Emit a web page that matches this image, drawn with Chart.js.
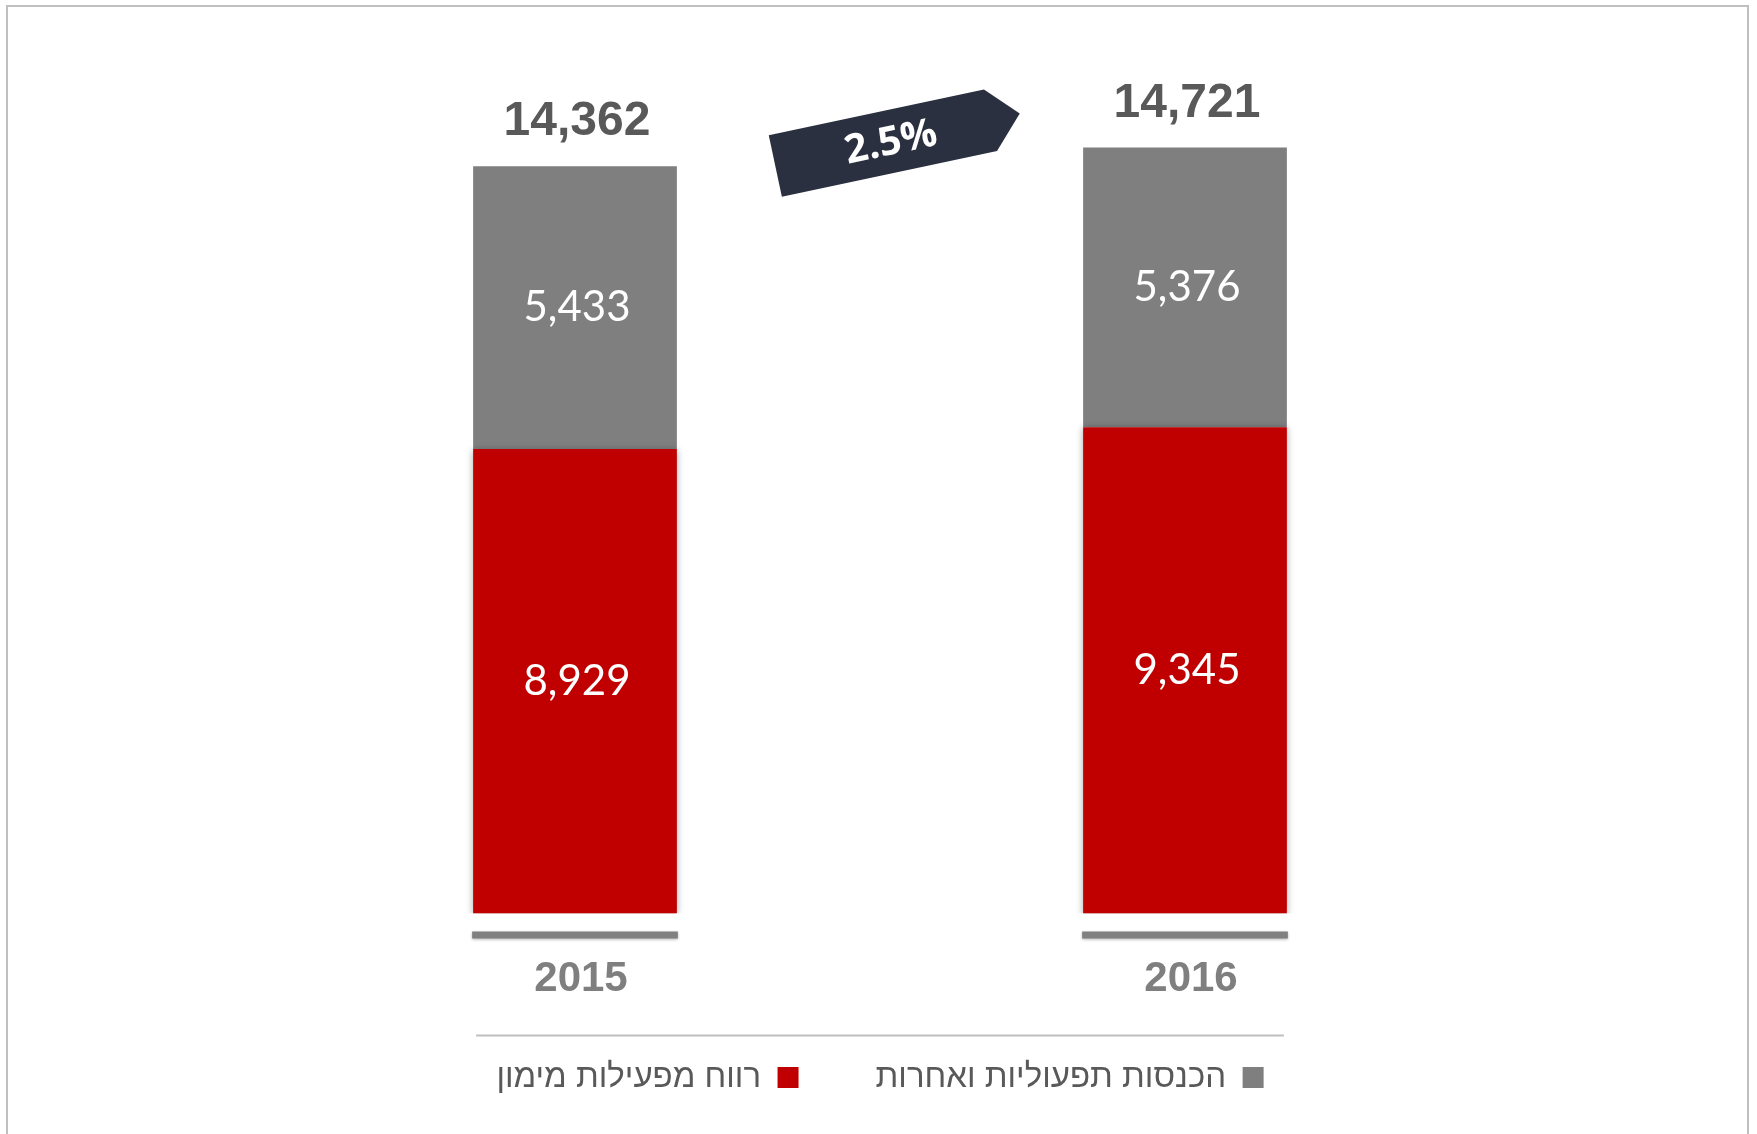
<!DOCTYPE html>
<html>
<head>
<meta charset="utf-8">
<script src="https://cdn.jsdelivr.net/npm/chart.js@4.4.1/dist/chart.umd.min.js"></script>
<style>
  html, body { margin: 0; padding: 0; background: #fff; }
  #frame { position: absolute; left: 6px; top: 5px; width: 1743px; height: 1140px; border: 2px solid #bfbfbf; box-sizing: border-box; }
  #wrap { position: absolute; left: 0; top: 0; width: 1757px; height: 1134px; }
</style>
</head>
<body>
<div id="frame"></div>
<div id="wrap"><canvas id="chart"></canvas></div>
<script>
var years = ['2015', '2016'];
var financeProfit = [8929, 9345];   // רווח מפעילות מימון
var otherIncome = [5433, 5376];     // הכנסות תפעוליות ואחרות
var seriesNames = ['רווח מפעילות מימון', 'הכנסות תפעוליות ואחרות'];

var totals = years.map(function (y, i) { return financeProfit[i] + otherIncome[i]; });
var growth = ((totals[1] / totals[0] - 1) * 100).toFixed(1) + '%';

function fmt(v) { return v.toLocaleString('en-US'); }

var labelsPlugin = {
    id: 'labels',
    beforeDatasetsDraw: function (chart) {
        var ctx = chart.ctx;
        var meta = chart.getDatasetMeta(0);
        var bottom = chart.scales.y.getPixelForValue(0);
        var xs = chart.scales.x;
        ctx.save();
        ctx.shadowColor = 'rgba(0,0,0,0.3)';
        ctx.shadowBlur = 3;
        ctx.shadowOffsetY = 1;
        ctx.fillStyle = '#808080';
        meta.data.forEach(function (bar) {
            ctx.fillRect(bar.x - bar.width / 2 - 1, bottom + 18, bar.width + 2, 7);
        });
        ctx.restore();
        // year labels under the axis marks
        ctx.save();
        ctx.fillStyle = '#7f7f7f';
        ctx.font = 'bold 42px "Liberation Sans", Arial';
        ctx.textAlign = 'center';
        ctx.textBaseline = 'middle';
        chart.data.labels.forEach(function (lab, i) {
            ctx.fillText(lab, xs.getPixelForValue(i) + 6, bottom + 66);
        });
        ctx.restore();
        // separator above legend
        var first = meta.data[0], last = meta.data[meta.data.length - 1];
        var ly = bottom + 122;
        ctx.save();
        ctx.strokeStyle = '#bfbfbf';
        ctx.lineWidth = 2;
        ctx.beginPath();
        ctx.moveTo(first.x - first.width / 2 + 3, ly);
        ctx.lineTo(last.x + last.width / 2 - 3, ly);
        ctx.stroke();
        ctx.restore();
    },
    beforeDatasetDraw: function (chart, args) {
        if (args.index === 0) {
            chart.ctx.save();
            chart.ctx.shadowColor = 'rgba(0,0,0,0.35)';
            chart.ctx.shadowBlur = 7;
            chart.ctx.shadowOffsetY = 1;
        }
    },
    afterDatasetDraw: function (chart, args) {
        if (args.index === 0) chart.ctx.restore();
    },
    afterDatasetsDraw: function (chart) {
        var ctx = chart.ctx;
        ctx.save();
        ctx.textAlign = 'center';
        ctx.textBaseline = 'middle';
        ctx.fillStyle = '#ffffff';
        ctx.font = '42px Lato';
        chart.data.datasets.forEach(function (ds, di) {
            chart.getDatasetMeta(di).data.forEach(function (bar, i) {
                ctx.fillText(fmt(ds.data[i]), bar.x + 2, (bar.y + bar.base) / 2);
            });
        });
        // totals
        var topMeta = chart.getDatasetMeta(chart.data.datasets.length - 1);
        ctx.font = 'bold 48px "Liberation Sans", Arial';
        ctx.fillStyle = '#595959';
        ctx.textBaseline = 'alphabetic';
        topMeta.data.forEach(function (bar, i) {
            ctx.fillText(fmt(totals[i]), bar.x + 2, bar.y - 31);
        });
        // growth arrow
        var x0 = topMeta.data[0].x, x1 = topMeta.data[1].x;
        var cx = (x0 + x1) / 2 + 13;
        var cy = chart.scales.y.getPixelForValue(Math.max.apply(null, totals)) - 5;
        ctx.translate(cx, cy);
        ctx.rotate(-12 * Math.PI / 180);
        ctx.fillStyle = '#2b3040';
        ctx.beginPath();
        ctx.moveTo(-120, -33);
        ctx.lineTo(100, -33);
        ctx.lineTo(130, -2);
        ctx.lineTo(100, 30);
        ctx.lineTo(-120, 30);
        ctx.closePath();
        ctx.fill();
        ctx.fillStyle = '#ffffff';
        ctx.font = 'bold 40px "Open Sans"';
        ctx.textBaseline = 'middle';
        ctx.fillText(growth, -2, 0);
        ctx.restore();
    }
};

var ctx = document.getElementById('chart').getContext('2d');
var myChart = new Chart(ctx, {
    type: 'bar',
    data: {
        labels: years,
        datasets: [{
            label: seriesNames[0],
            data: financeProfit,
            backgroundColor: '#c00000',
            borderWidth: 0,
            categoryPercentage: 1,
            barPercentage: 0.334
        }, {
            label: seriesNames[1],
            data: otherIncome,
            backgroundColor: '#7f7f7f',
            borderWidth: 0,
            categoryPercentage: 1,
            barPercentage: 0.334
        }]
    },
    options: {
        responsive: true,
        maintainAspectRatio: false,
        animation: false,
        layout: {
            padding: { left: 270, right: 267, top: 81, bottom: 30 }
        },
        plugins: {
            tooltip: { enabled: false },
            legend: {
                position: 'bottom',
                reverse: true,
                rtl: true,
                textDirection: 'rtl',
                labels: {
                    boxWidth: 21,
                    boxHeight: 21,
                    padding: 77,
                    color: '#595959',
                    font: { family: '"Liberation Sans", Arial', size: 33 }
                }
            }
        },
        scales: {
            x: {
                stacked: true,
                grid: { display: false, drawTicks: false },
                border: { display: false },
                ticks: { display: false },
                afterFit: function (scale) { scale.height = 70.5; }
            },
            y: {
                stacked: true,
                display: false,
                min: 0,
                max: 16000
            }
        }
    },
    plugins: [labelsPlugin]
});
</script>
</body>
</html>
